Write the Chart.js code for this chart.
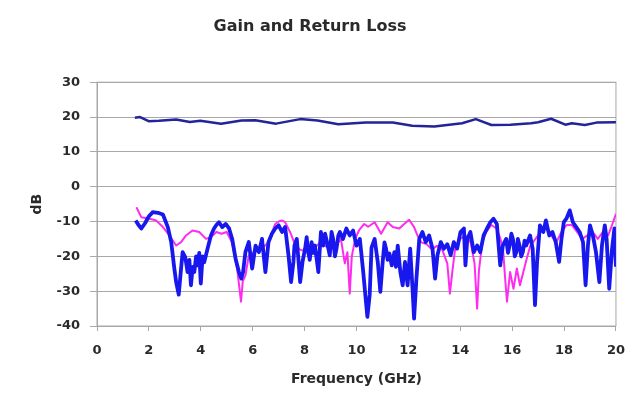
<!DOCTYPE html>
<html>
<head>
<meta charset="utf-8">
<script src="https://cdn.jsdelivr.net/npm/chart.js@4.4.1/dist/chart.umd.min.js"></script>
<style>
  html, body { margin: 0; padding: 0; background: #fff; }
  #wrap { width: 637px; height: 409px; }
</style>
</head>
<body>
<div id="wrap"><canvas id="chart"></canvas></div>
<script>
// values (GHz / dB)
const gainFreq = [1.46, 1.66, 1.99, 2.39, 3.05, 3.58, 3.98, 4.78, 5.57, 6.1, 6.9, 7.83, 8.5, 9.3, 10.36, 11.4, 12.15, 13.0, 14.07, 14.6, 15.2, 15.93, 16.73, 17.0, 17.5, 18.05, 18.3, 18.8, 19.25, 20.0];
const gainDb = [19.8, 20.0, 18.8, 18.9, 19.3, 18.6, 18.9, 18.1, 19.0, 19.1, 18.1, 19.4, 19.0, 17.9, 18.4, 18.4, 17.5, 17.3, 18.2, 19.4, 17.7, 17.8, 18.2, 18.5, 19.5, 17.8, 18.2, 17.7, 18.4, 18.5];

const inFreq = [1.52, 1.71, 2.03, 2.28, 2.54, 2.79, 3.05, 3.24, 3.43, 3.68, 3.94, 4.2, 4.39, 4.6, 4.8, 5.0, 5.2, 5.4, 5.55, 5.62, 5.72, 5.85, 6.0, 6.2, 6.4, 6.6, 6.75, 6.87, 7.0, 7.13, 7.25, 7.44, 7.6, 7.8, 8.0, 8.2, 8.4, 8.6, 8.8, 9.0, 9.2, 9.4, 9.55, 9.65, 9.74, 9.82, 9.95, 10.1, 10.3, 10.45, 10.7, 10.95, 11.2, 11.4, 11.65, 11.84, 12.03, 12.22, 12.35, 12.5, 12.7, 12.9, 13.1, 13.3, 13.5, 13.6, 13.7, 13.8, 14.0, 14.2, 14.4, 14.55, 14.65, 14.72, 14.85, 15.0, 15.2, 15.4, 15.55, 15.65, 15.73, 15.8, 15.92, 16.05, 16.18, 16.3, 16.43, 16.56, 16.7, 16.9, 17.1, 17.3, 17.5, 17.7, 17.9, 18.1, 18.3, 18.5, 18.7, 18.9, 19.1, 19.3, 19.5, 19.7, 19.85, 20.0];
const inDb = [-5.9, -8.8, -9.2, -9.7, -11.6, -14, -16.9, -15.9, -14, -12.6, -13, -15, -14.5, -13, -13.5, -13, -16, -23.5, -33, -27, -25.5, -19.7, -19, -18, -17.5, -16, -13, -10.7, -10, -9.7, -10.2, -13, -16, -18, -18.5, -17, -17.5, -16, -17, -18, -17, -15, -22, -18.8, -30.7, -20, -15, -12.5, -10.7, -11.5, -10.2, -13.5, -10.2, -11.6, -12, -10.7, -9.5, -11.6, -14, -16, -16.5, -18, -17, -18, -22, -30.7, -24, -18, -15, -14, -16, -22, -35, -24, -16, -13, -11, -12, -15, -18, -26.4, -33, -24.5, -29.3, -23.5, -28.3, -24.5, -20.7, -17, -15, -13, -12, -14, -16, -13, -11, -11, -13, -15, -14, -13, -15, -13, -14, -11, -7.8];

const outFreq = [1.49, 1.6, 1.71, 1.85, 2.0, 2.15, 2.35, 2.54, 2.73, 2.86, 2.98, 3.05, 3.15, 3.24, 3.3, 3.4, 3.49, 3.56, 3.62, 3.69, 3.75, 3.82, 3.88, 3.94, 4.0, 4.07, 4.13, 4.26, 4.39, 4.51, 4.6, 4.7, 4.83, 4.96, 5.09, 5.21, 5.34, 5.47, 5.56, 5.63, 5.72, 5.85, 5.98, 6.11, 6.24, 6.36, 6.49, 6.61, 6.74, 6.87, 7.0, 7.13, 7.25, 7.38, 7.48, 7.57, 7.61, 7.7, 7.83, 7.92, 8.02, 8.08, 8.14, 8.2, 8.27, 8.34, 8.4, 8.53, 8.63, 8.72, 8.79, 8.85, 8.97, 9.04, 9.1, 9.17, 9.23, 9.3, 9.36, 9.48, 9.61, 9.74, 9.87, 10.0, 10.13, 10.26, 10.34, 10.42, 10.51, 10.58, 10.7, 10.82, 10.92, 11.01, 11.08, 11.14, 11.2, 11.27, 11.36, 11.46, 11.52, 11.59, 11.69, 11.78, 11.87, 11.97, 12.07, 12.16, 12.22, 12.31, 12.42, 12.54, 12.67, 12.8, 12.93, 13.03, 13.12, 13.25, 13.37, 13.5, 13.63, 13.75, 13.88, 14.01, 14.14, 14.2, 14.27, 14.39, 14.52, 14.65, 14.77, 14.9, 15.03, 15.16, 15.28, 15.41, 15.54, 15.64, 15.77, 15.84, 15.9, 15.97, 16.03, 16.1, 16.16, 16.22, 16.28, 16.35, 16.41, 16.48, 16.54, 16.69, 16.79, 16.88, 16.96, 17.07, 17.2, 17.3, 17.43, 17.55, 17.68, 17.81, 17.9, 17.99, 18.09, 18.22, 18.34, 18.47, 18.6, 18.73, 18.83, 18.92, 19.0, 19.11, 19.23, 19.36, 19.46, 19.57, 19.64, 19.74, 19.85, 19.94, 20.0];
const outDb = [-9.7, -11, -12, -10.5, -8.5, -7.3, -7.5, -8, -11.6, -15.9, -23.5, -27.4, -31, -23.5, -18.8, -20.2, -24.5, -21, -28.3, -23, -24.5, -20, -22.6, -19, -27.8, -20, -21.7, -17.8, -14, -12, -11, -10.2, -11.6, -10.7, -12, -15, -20.7, -24.5, -26.4, -24.5, -18.8, -15.9, -23.5, -16.9, -18.8, -15, -24.5, -15.9, -13.5, -12, -11.1, -13, -11.6, -19.7, -27.4, -21.6, -16.9, -15, -27.4, -21.6, -17.8, -14.5, -18.8, -21, -15.9, -19, -16.9, -24.5, -13, -16.9, -13.5, -15.4, -19.7, -13, -15, -20, -17.8, -14, -13, -15, -12, -14, -12.6, -16.9, -15, -24.5, -31, -37.4, -31, -17.5, -15, -21.6, -30.2, -21.6, -16, -17.8, -21, -19.2, -22.6, -18.8, -23, -16.9, -24.5, -28.3, -21.6, -28.3, -17.8, -29.3, -37.9, -26.4, -15, -13, -15.9, -14, -17.8, -26.4, -19.7, -15.9, -17.8, -16.5, -19.7, -15.9, -17.8, -13, -12, -22.6, -15, -13, -18.8, -16.9, -18.8, -14, -12, -10.2, -9.2, -10.7, -22.6, -16.9, -15, -19, -16.9, -13.5, -15, -20, -18.8, -15, -16.9, -20, -18.8, -15.5, -16.9, -14, -17.8, -34, -21.6, -11.1, -13, -9.7, -14, -13, -15.9, -21.6, -15, -10.2, -9.2, -6.8, -10.2, -11.6, -13, -15.9, -28.3, -16.9, -11.1, -14, -18.8, -27.4, -16.9, -11.1, -15, -29.3, -17.8, -12, -23];

const xTicks = [0, 2, 4, 6, 8, 10, 12, 14, 16, 18, 20];
const yTicks = [-40, -30, -20, -10, 0, 10, 20, 30];

function pairs(xs, ys) {
    return xs.map((x, i) => ({ x: x, y: ys[i] }));
}

// grey frame round the plot area
const frame = {
    id: 'frame',
    beforeDatasetsDraw(chart) {
        const a = chart.chartArea;
        const c = chart.ctx;
        c.save();
        c.strokeStyle = '#a8a8a8';
        c.lineWidth = 1;
        c.strokeRect(a.left, a.top, a.right - a.left, a.bottom - a.top);
        c.restore();
    }
};

Chart.defaults.font.family = "'DejaVu Sans', sans-serif";
Chart.defaults.color = '#2a2a2a';

const ctx = document.getElementById('chart').getContext('2d');
new Chart(ctx, {
    type: 'line',
    data: {
        datasets: [
            { label: 'Output RL', data: pairs(outFreq, outDb), borderColor: '#1818ee', borderWidth: 3.8 },
            { label: 'Input RL', data: pairs(inFreq, inDb), borderColor: '#ff2cf0', borderWidth: 2 },
            { label: 'Gain', data: pairs(gainFreq, gainDb), borderColor: '#23239a', borderWidth: 2.5 }
        ]
    },
    options: {
        responsive: true,
        maintainAspectRatio: false,
        animation: false,
        layout: { padding: { right: 17 } },
        elements: {
            point: { radius: 0 },
            line: { tension: 0, borderJoinStyle: 'round', fill: false }
        },
        plugins: {
            legend: { display: false },
            tooltip: { enabled: false },
            title: {
                display: true,
                text: 'Gain and Return Loss',
                font: { size: 16, weight: 'bold' },
                padding: { top: 17, bottom: 46 }
            }
        },
        scales: {
            x: {
                type: 'linear',
                min: 0,
                max: 20,
                afterBuildTicks: s => { s.ticks = xTicks.map(v => ({ value: v })); },
                afterFit: s => { s.height = 83; },
                ticks: { font: { size: 13, weight: 'bold' }, padding: 12, maxRotation: 0 },
                grid: { drawOnChartArea: false, tickLength: 5, color: '#a8a8a8' },
                border: { color: '#a8a8a8' },
                title: { display: true, text: 'Frequency (GHz)', font: { size: 14, weight: 'bold' }, padding: { top: 0, bottom: 21 } }
            },
            y: {
                min: -40,
                max: 30,
                afterBuildTicks: s => { s.ticks = yTicks.map(v => ({ value: v })); },
                afterFit: s => { s.width = 97; },
                ticks: { font: { size: 13, weight: 'bold' }, padding: 10 },
                grid: { color: '#a8a8a8', tickLength: 7 },
                border: { color: '#a8a8a8' },
                title: { display: true, text: 'dB', font: { size: 14, weight: 'bold' }, padding: { top: 29, bottom: 0 } }
            }
        }
    },
    plugins: [frame]
});
</script>
</body>
</html>
